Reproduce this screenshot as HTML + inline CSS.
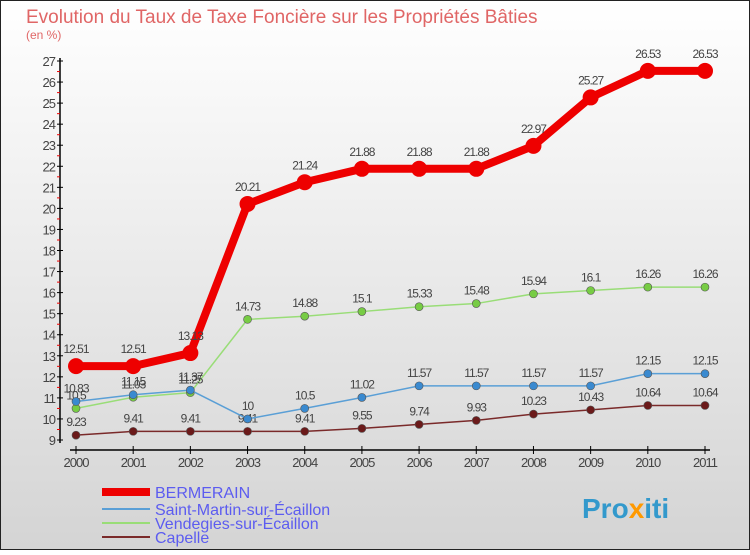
<!DOCTYPE html>
<html><head><meta charset="utf-8"><style>
body{margin:0;width:750px;height:550px;overflow:hidden;font-family:"Liberation Sans","DejaVu Sans",sans-serif}
svg text{font-family:"Liberation Sans","DejaVu Sans",sans-serif}
</style></head><body>
<svg id="c" width="750" height="550">
<defs><linearGradient id="bg" x1="0" y1="0" x2="0" y2="1"><stop offset="0" stop-color="#ffffff"/><stop offset="1" stop-color="#d4d4d4"/></linearGradient></defs>
<rect x="0" y="0" width="750" height="550" fill="url(#bg)" stroke="#222" stroke-width="2"/>
<text x="26" y="23" font-size="19" fill="#e06666">Evolution du Taux de Taxe Foncière sur les Propriétés Bâties</text>
<text x="26" y="39" font-size="12" fill="#e06666">(en %)</text>
<g id="axes"></g><g id="series"></g>
<g>
<line x1="102" y1="492" x2="150" y2="492" stroke="#e00" stroke-width="8"/>
<text x="155" y="498" font-size="16" fill="#5c5cf0">BERMERAIN</text>
<line x1="102" y1="509" x2="150" y2="509" stroke="#5a9fd6" stroke-width="2"/>
<text x="155" y="515" font-size="16" fill="#5c5cf0">Saint-Martin-sur-Écaillon</text>
<line x1="102" y1="523" x2="150" y2="523" stroke="#99dd77" stroke-width="2"/>
<text x="155" y="529" font-size="16" fill="#5c5cf0">Vendegies-sur-Écaillon</text>
<line x1="102" y1="537" x2="150" y2="537" stroke="#7a2a2a" stroke-width="2"/>
<text x="155" y="543" font-size="16" fill="#5c5cf0">Capelle</text>
</g>
<text x="582" y="518" font-size="28" font-weight="bold" fill="#3399cc">Pro<tspan fill="#ff9900">x</tspan>iti</text>
</svg>
<script>
const years=[2000,2001,2002,2003,2004,2005,2006,2007,2008,2009,2010,2011];
const yTicks=[9,10,11,12,13,14,15,16,17,18,19,20,21,22,23,24,25,26,27];
const bermerain=[12.51,12.51,13.13,20.21,21.24,21.88,21.88,21.88,22.97,25.27,26.53,26.53];
const saintMartin=[10.83,11.15,11.37,10,10.5,11.02,11.57,11.57,11.57,11.57,12.15,12.15];
const vendegies=[10.5,11.03,11.25,14.73,14.88,15.1,15.33,15.48,15.94,16.1,16.26,16.26];
const capelle=[9.23,9.41,9.41,9.41,9.41,9.55,9.74,9.93,10.23,10.43,10.64,10.64];
const NS='http://www.w3.org/2000/svg';
const X=i=>76+i*(705-76)/11;
const Y=v=>440-(v-9)*(440-61)/18;
function mk(tag,attrs,parent,txt){const e=document.createElementNS(NS,tag);for(const k in attrs)e.setAttribute(k,attrs[k]);if(txt!==undefined)e.textContent=txt;parent.appendChild(e);return e;}
const ax=document.getElementById('axes');
let yl=mk('line',{x1:60,y1:58,x2:60,y2:443,stroke:'#000','stroke-width':1.5},ax);


let xl=mk('line',{x1:70,y1:450,x2:710,y2:450,stroke:'#000','stroke-width':1.5},ax);


yTicks.forEach(t=>{
  const y=Y(t);
  mk('line',{x1:57,y1:y,x2:63,y2:y,stroke:'#000'},ax);
  if(t<27) mk('line',{x1:57,y1:y-10.5,x2:60,y2:y-10.5,stroke:'#e00'},ax);
  const tx=mk('text',{x:55,y:y+5,'font-size':13,fill:'#444','text-anchor':'end','letter-spacing':'-1'},ax,String(t));
  
  
});
years.forEach((yr,i)=>{
  const x=X(i);
  mk('line',{x1:x,y1:446,x2:x,y2:454,stroke:'#000'},ax);
  const tx=mk('text',{x:x,y:467,'font-size':13,fill:'#444','text-anchor':'middle','letter-spacing':'-1'},ax,String(yr));
  
  
});
const sg=document.getElementById('series');
function series(vals,color,w,r,name,fill){
  const g=mk('g',{},sg);
  
  
  mk('polyline',{points:vals.map((v,i)=>X(i)+','+Y(v)).join(' '),fill:'none',stroke:color,'stroke-width':w,'stroke-linejoin':'round'},g);
  vals.forEach((v,i)=>{
    const c=mk('circle',{cx:X(i),cy:Y(v),r:r,fill:fill,stroke:'#555','stroke-width':r>5?0:0.6},g);
    
    
    const t=mk('text',{x:X(i),y:Y(v)-9-(r>5?4:0),'font-size':12,fill:'#444','text-anchor':'middle','letter-spacing':'-1'},g,String(v));
    
    
  });
}
series(capelle,'#7a2a2a',1.5,4,'capelle','#6b1a1a');
series(vendegies,'#99dd77',1.5,4,'vendegies','#77cc44');
series(saintMartin,'#5a9fd6',1.5,4,'saint-martin','#3a8ad0');
series(bermerain,'#ee0000',8,8,'bermerain','#ee0000');
</script>
</body></html>
